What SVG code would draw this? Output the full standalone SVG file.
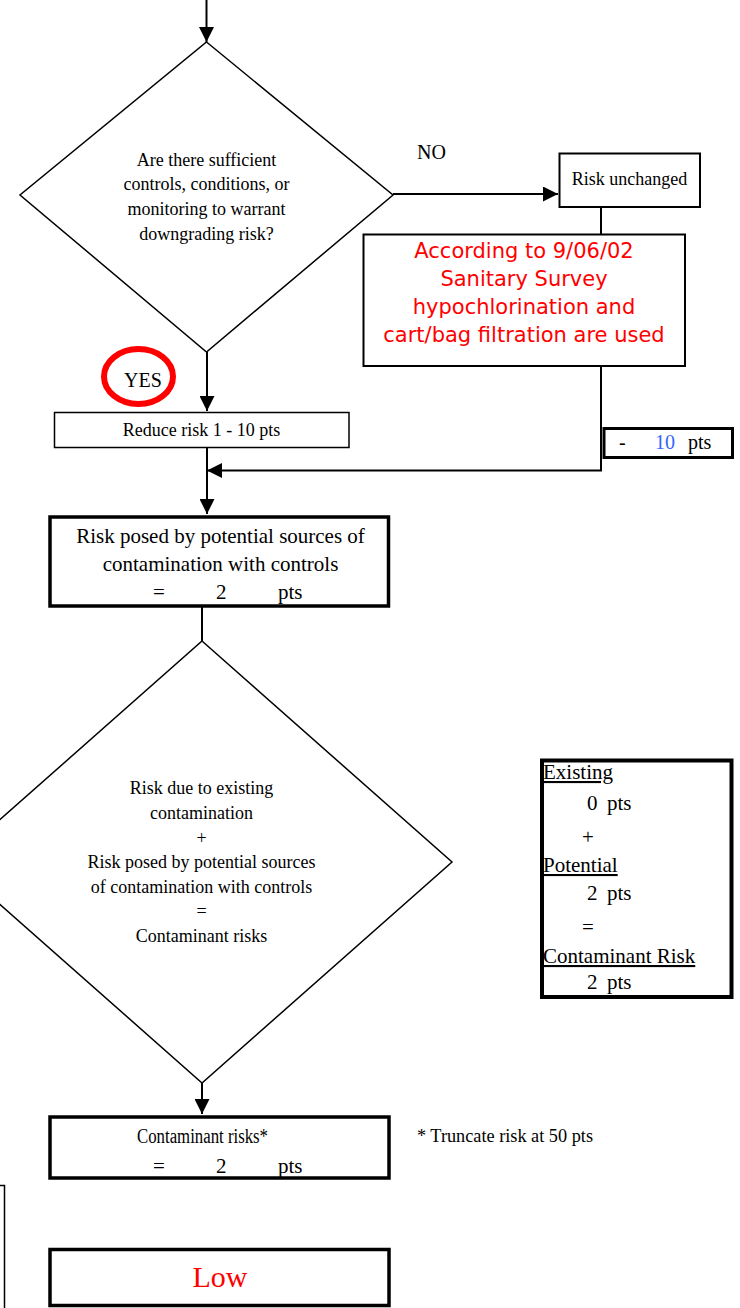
<svg xmlns="http://www.w3.org/2000/svg" width="740" height="1308" viewBox="0 0 740 1308">
<style>
.t{font-family:"Liberation Serif","Times New Roman",serif;fill:#000}
.s{font-family:"DejaVu Sans",Verdana,sans-serif;fill:#ff0000}
.c{text-anchor:middle}
.thin{fill:#fff;stroke:#000;stroke-width:1.5}
.box2{fill:#fff;stroke:#000;stroke-width:2}
.thick{fill:#fff;stroke:#000;stroke-width:3.5}
.ln{stroke:#000;stroke-width:2;fill:none}
.u{text-decoration:underline}
</style>
<defs>
<marker id="ah" markerWidth="15" markerHeight="15" refX="15" refY="7.5" orient="auto" markerUnits="userSpaceOnUse">
<path d="M0,0 L15,7.5 L0,15 z" fill="#000"/>
</marker>
</defs>
<g id="connectors">
<line class="ln" x1="206.5" y1="0" x2="206.5" y2="42" marker-end="url(#ah)"/>
<line class="ln" x1="393" y1="194" x2="558" y2="194" marker-end="url(#ah)"/>
<line class="ln" x1="601" y1="207" x2="601" y2="234"/>
<polyline class="ln" points="601,366 601,470.5 207,470.5" marker-end="url(#ah)"/>
<line class="ln" x1="207" y1="352" x2="207" y2="411" marker-end="url(#ah)"/>
<line class="ln" x1="207" y1="448" x2="207" y2="514" marker-end="url(#ah)"/>
<line class="ln" x1="202" y1="607" x2="202" y2="641"/>
<line class="ln" x1="202" y1="1083" x2="202" y2="1114" marker-end="url(#ah)"/>
</g>
<g id="decision1">
<polygon class="thin" points="206.5,42 393,195 206.5,352 20,195"/>
<text class="t c" font-size="18" x="206.5" y="165.5">Are there sufficient</text>
<text class="t c" font-size="18" x="206.5" y="190">controls, conditions, or</text>
<text class="t c" font-size="18" x="206.5" y="215">monitoring to warrant</text>
<text class="t c" font-size="18" x="206.5" y="240">downgrading risk?</text>
</g>
<g id="label-no">
<text class="t" font-size="20" x="417" y="158.5">NO</text>
</g>
<g id="risk-unchanged">
<rect class="box2" x="559.5" y="153.5" width="140.5" height="53.5"/>
<text class="t c" font-size="18" x="629.5" y="185">Risk unchanged</text>
</g>
<g id="note-survey">
<rect class="box2" x="363.5" y="234.5" width="321.5" height="131.5"/>
<text class="s c" font-size="21" x="524" y="257.5">According to 9/06/02</text>
<text class="s c" font-size="21" x="524" y="286">Sanitary Survey</text>
<text class="s c" font-size="21" x="524" y="314">hypochlorination and</text>
<text class="s c" font-size="21" x="524" y="342">cart/bag filtration are used</text>
</g>
<g id="label-yes">
<ellipse cx="138.5" cy="376.5" rx="34.5" ry="27.5" fill="none" stroke="#ff0000" stroke-width="6"/>
<text class="t c" font-size="20" x="143" y="387">YES</text>
</g>
<g id="reduce-risk">
<rect class="thin" x="54.5" y="412.5" width="294.5" height="35"/>
<text class="t c" font-size="18" x="201.5" y="435.5">Reduce risk 1 - 10 pts</text>
</g>
<g id="minus-10">
<rect fill="#fff" stroke="#000" stroke-width="3" x="604" y="428.5" width="128.5" height="29"/>
<text class="t" font-size="20" x="619" y="449">-</text>
<text class="t" font-size="20" x="655" y="449" style="fill:#3366ff">10</text>
<text class="t" font-size="20" x="688" y="449">pts</text>
</g>
<g id="risk-potential">
<rect class="thick" x="50" y="517" width="338.5" height="89"/>
<text class="t c" font-size="21" x="220.5" y="543">Risk posed by potential sources of</text>
<text class="t c" font-size="21" x="220.5" y="571">contamination with controls</text>
<text class="t" font-size="21" x="153" y="598.5">=</text>
<text class="t" font-size="21" x="216" y="598.5">2</text>
<text class="t" font-size="21" x="278" y="598.5">pts</text>
</g>
<g id="decision2">
<polygon class="thin" points="202,641 452,862 202,1083 -48,862"/>
<text class="t c" font-size="18" x="201.5" y="794">Risk due to existing</text>
<text class="t c" font-size="18" x="201.5" y="819">contamination</text>
<text class="t c" font-size="18" x="201.5" y="843.5">+</text>
<text class="t c" font-size="18" x="201.5" y="868">Risk posed by potential sources</text>
<text class="t c" font-size="18" x="201.5" y="892.5">of contamination with controls</text>
<text class="t c" font-size="18" x="201.5" y="917">=</text>
<text class="t c" font-size="18" x="201.5" y="941.5">Contaminant risks</text>
</g>
<g id="summary">
<rect fill="#fff" stroke="#000" stroke-width="4" x="542" y="760.5" width="189.5" height="236.5"/>
<text class="t u" font-size="21" x="543" y="779">Existing</text>
<text class="t" font-size="21" x="587" y="810">0</text>
<text class="t" font-size="21" x="607" y="810">pts</text>
<text class="t" font-size="21" x="582" y="844">+</text>
<text class="t u" font-size="21" x="543" y="872">Potential</text>
<text class="t" font-size="21" x="587" y="900">2</text>
<text class="t" font-size="21" x="607" y="900">pts</text>
<text class="t" font-size="21" x="582" y="934">=</text>
<text class="t u" font-size="21" x="543" y="963">Contaminant Risk</text>
<text class="t" font-size="21" x="587" y="989">2</text>
<text class="t" font-size="21" x="607" y="989">pts</text>
</g>
<g id="contaminant-risks">
<rect class="thick" x="50" y="1117" width="339" height="61"/>
<text class="t" font-size="20" x="137" y="1143" textLength="131" lengthAdjust="spacingAndGlyphs">Contaminant risks*</text>
<text class="t" font-size="21" x="153" y="1173">=</text>
<text class="t" font-size="21" x="216" y="1173">2</text>
<text class="t" font-size="21" x="278" y="1173">pts</text>
</g>
<g id="truncate-note">
<text class="t" font-size="19" x="417" y="1142" textLength="176" lengthAdjust="spacingAndGlyphs">* Truncate risk at 50 pts</text>
</g>
<g id="partial-box">
<polyline fill="none" stroke="#000" stroke-width="1.5" points="0,1185.5 4.5,1185.5 4.5,1308"/>
</g>
<g id="result">
<rect class="thick" x="50" y="1249.5" width="339" height="56"/>
<text class="t c" font-size="30" x="220" y="1287" style="fill:#ff0000">Low</text>
</g>
</svg>
